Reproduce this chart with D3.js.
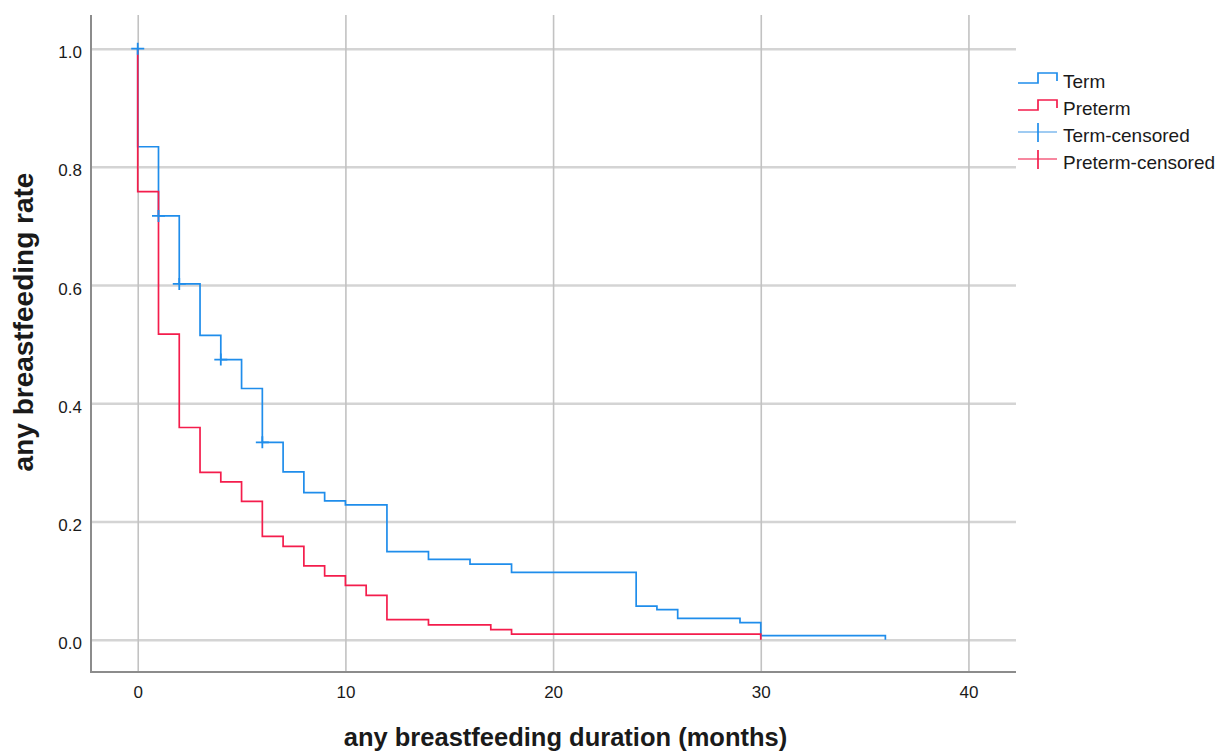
<!DOCTYPE html>
<html>
<head>
<meta charset="utf-8">
<script src="https://cdn.jsdelivr.net/npm/d3@7"></script>
<style>
  body { margin: 0; background: #fff; }
  svg text { font-family: "Liberation Sans", Arial, sans-serif; fill: #1a1a1a; }
</style>
</head>
<body>
<div id="chart"></div>
<script>
// Kaplan-Meier curves
var termTimes = [0, 0, 1, 2, 3, 4, 5, 6, 7, 8, 9, 10, 12, 14, 16, 18, 24, 25, 26, 29, 30, 36];
var termSurv = [1.0, 0.834, 0.717, 0.602, 0.515, 0.474, 0.425, 0.334, 0.284, 0.249, 0.235, 0.228, 0.149, 0.136, 0.128, 0.114, 0.057, 0.051, 0.036, 0.029, 0.007, 0.0];

var pretermTimes = [0, 0, 1, 2, 3, 4, 5, 6, 7, 8, 9, 10, 11, 12, 14, 17, 18, 30];
var pretermSurv = [1.0, 0.758, 0.517, 0.359, 0.283, 0.267, 0.234, 0.175, 0.158, 0.125, 0.108, 0.092, 0.075, 0.034, 0.025, 0.017, 0.0095, 0.0];

var termCensTimes = [0, 1, 2, 4, 6];
var termCensSurv = [1.0, 0.717, 0.602, 0.474, 0.334];

var xTicks = [0, 10, 20, 30, 40];
var yTicks = [0, 0.2, 0.4, 0.6, 0.8, 1.0];

var legendLabels = ["Term", "Preterm", "Term-censored", "Preterm-censored"];

var blue = "#1f8deb", red = "#f41d4c";

var W = 1231, H = 753;
// plot box (note: "top" is taken by window.top, so use mTop)
var mLeft = 91, mRight = 1016, mTop = 15, mBottom = 672;

var svg = d3.select("#chart").append("svg")
  .attr("width", W).attr("height", H);

var x = d3.scaleLinear().domain([-2.25, 42.29]).range([mLeft, mRight]);
var y = d3.scaleLinear().domain([-0.0546, 1.0569]).range([mBottom, mTop]);

// horizontal grid + y labels
var yAxis = svg.append("g")
  .attr("transform", "translate(" + mLeft + ",0)")
  .call(d3.axisLeft(y).tickValues(yTicks).tickFormat(d3.format(".1f"))
    .tickSize(-(mRight - mLeft)).tickPadding(9));
yAxis.select(".domain").remove();
yAxis.selectAll("line").attr("stroke", "#d4d4d4").attr("stroke-width", 2.5);
yAxis.selectAll("text").attr("font-size", 17).attr("dy", "0.53em");

// vertical grid + x labels
var xAxis = svg.append("g")
  .attr("transform", "translate(0," + mBottom + ")")
  .call(d3.axisBottom(x).tickValues(xTicks).tickSize(-(mBottom - mTop)).tickPadding(14));
xAxis.select(".domain").remove();
xAxis.selectAll("line").attr("stroke", "#c2c2c2").attr("stroke-width", 1.6);
xAxis.selectAll("text").attr("font-size", 17);

// axis lines
svg.append("path")
  .attr("d", "M" + mLeft + "," + mTop + "V" + mBottom + "H" + mRight)
  .attr("fill", "none").attr("stroke", "#8c8c8c").attr("stroke-width", 2);

var step = d3.line()
  .x(d => x(d[0])).y(d => y(d[1]))
  .curve(d3.curveStepAfter);

svg.append("path")
  .datum(d3.zip(termTimes, termSurv))
  .attr("d", step)
  .attr("fill", "none").attr("stroke", blue).attr("stroke-width", 1.7);

svg.append("path")
  .datum(d3.zip(pretermTimes, pretermSurv))
  .attr("d", step)
  .attr("fill", "none").attr("stroke", red).attr("stroke-width", 1.7);

// censored marks
svg.selectAll(".cens")
  .data(d3.zip(termCensTimes, termCensSurv))
  .enter().append("path")
  .attr("class", "cens")
  .attr("d", d => {
    var cx = x(d[0]), cy = y(d[1]);
    return "M" + (cx - 6.5) + "," + cy + "H" + (cx + 6.5) + "M" + cx + "," + (cy - 6) + "V" + (cy + 6);
  })
  .attr("fill", "none").attr("stroke", blue).attr("stroke-width", 1.8);

// legend
var lx = 1018, lw = 39;
var lg = svg.append("g");
var rowY = [78, 105, 132, 159];

[blue, red].forEach((c, i) => {
  var cy = rowY[i];
  lg.append("path")
    .attr("d", "M" + lx + "," + (cy + 5) + "H" + (lx + 20) + "V" + (cy - 5) + "H" + (lx + lw) + "V" + (cy + 3))
    .attr("fill", "none").attr("stroke", c).attr("stroke-width", 1.7);
});
[[blue, "#9fcbf2"], [red, "#f7879f"]].forEach((c, i) => {
  var cy = rowY[i + 2];
  lg.append("path")
    .attr("d", "M" + lx + "," + cy + "H" + (lx + lw))
    .attr("stroke", c[1]).attr("stroke-width", 2.2);
  lg.append("path")
    .attr("d", "M" + (lx + 20) + "," + (cy - 9) + "V" + (cy + 10))
    .attr("stroke", c[0]).attr("stroke-width", 1.7);
});
lg.selectAll("text")
  .data(legendLabels)
  .enter().append("text")
  .attr("x", 1063)
  .attr("y", (d, i) => rowY[i] + 10)
  .attr("font-size", 19)
  .text(d => d);

// axis titles
svg.append("text")
  .attr("x", (mLeft + mRight) / 2 + 12)
  .attr("y", 746)
  .attr("text-anchor", "middle")
  .attr("font-size", 25.5)
  .attr("font-weight", "bold")
  .text("any breastfeeding duration (months)");

svg.append("text")
  .attr("transform", "translate(33,322) rotate(-90)")
  .attr("text-anchor", "middle")
  .attr("font-size", 28)
  .attr("font-weight", "bold")
  .text("any breastfeeding rate");
</script>
</body>
</html>
